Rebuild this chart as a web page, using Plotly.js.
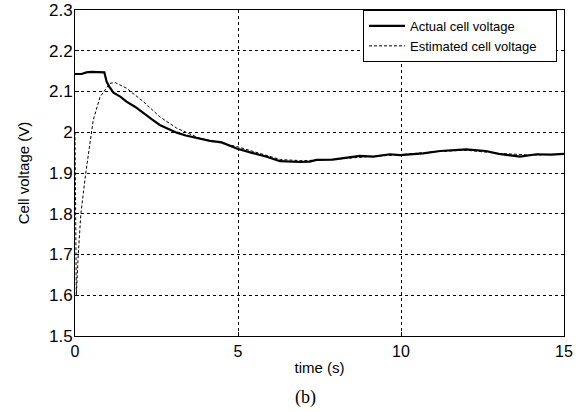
<!DOCTYPE html>
<html>
<head>
<meta charset="utf-8">
<script src="https://cdn.plot.ly/plotly-3.0.1.min.js"></script>
<style>html,body{margin:0;padding:0;background:#fff;}#chart{width:587px;height:411px;}</style>
</head>
<body>
<div id="chart"></div>
<script>
// Actual cell voltage
const actualT = [0, 0.2, 0.35, 0.5, 0.9, 0.97, 1.05, 1.18, 1.4, 1.58, 1.85, 2.1, 2.35, 2.6, 2.85, 3.12, 3.4, 3.63, 3.83, 4.14, 4.5, 4.96, 5.4, 5.88, 6.29, 6.6, 6.9, 7.2, 7.41, 7.9, 8.44, 8.74, 9.15, 9.66, 9.97, 10.68, 11.2, 12.0, 12.6, 13.0, 13.3, 13.65, 14.16, 14.6, 15];
const actualV = [2.143, 2.143, 2.147, 2.148, 2.147, 2.124, 2.112, 2.097, 2.087, 2.075, 2.062, 2.046, 2.032, 2.018, 2.008, 1.999, 1.992, 1.988, 1.983, 1.979, 1.975, 1.960, 1.950, 1.940, 1.929, 1.928, 1.927, 1.928, 1.932, 1.933, 1.938, 1.942, 1.940, 1.946, 1.944, 1.948, 1.954, 1.958, 1.954, 1.947, 1.944, 1.940, 1.946, 1.945, 1.947];
// Estimated cell voltage
const estT = [0, 0.04, 0.1, 0.18, 0.33, 0.45, 0.56, 0.77, 1.07, 1.23, 1.58, 2.1, 2.6, 3.12, 3.63, 3.83, 4.96, 5.88, 6.3, 7, 8, 9, 10, 11, 12, 13, 14, 15];
const estV = [2.0, 1.6, 1.7, 1.8, 1.9, 1.975, 2.03, 2.087, 2.12, 2.122, 2.108, 2.075, 2.038, 2.01, 1.993, 1.985, 1.965, 1.944, 1.933, 1.930, 1.934, 1.940, 1.945, 1.952, 1.956, 1.948, 1.944, 1.946];

const xTicks = [0, 5, 10, 15];
const yTicks = [1.5, 1.6, 1.7, 1.8, 1.9, 2, 2.1, 2.2, 2.3];
const yTickText = ['1.5', '1.6', '1.7', '1.8', '1.9', '2', '2.1', '2.2', '2.3'];
const seriesNames = ['Actual cell voltage', 'Estimated cell voltage'];

const pad = '\u00a0\u00a0\u00a0\u00a0';
const traces = [
  {x: actualT, y: actualV, type: 'scatter', mode: 'lines', name: seriesNames[0],
   line: {color: '#000', width: 2.2}},
  {x: estT, y: estV, type: 'scatter', mode: 'lines', name: seriesNames[1] + pad,
   line: {color: '#000', width: 1, dash: '3px,2px'}}
];

const font = 'Arial, "Liberation Sans", sans-serif';
const layout = {
  width: 587, height: 411,
  margin: {l: 75, r: 23, t: 10, b: 75},
  paper_bgcolor: '#fff', plot_bgcolor: '#fff',
  showlegend: true,
  legend: {x: 0.9857, xanchor: 'right', y: 1, yanchor: 'top',
    bgcolor: '#fff', bordercolor: '#000', borderwidth: 1, itemwidth: 36,
    font: {family: font, size: 13, color: '#000'}, tracegroupgap: 0},
  xaxis: {range: [0, 15], tickvals: xTicks, ticktext: xTicks.map(String),
    showgrid: true, gridcolor: '#000', gridwidth: 1, griddash: '3px,3px',
    zeroline: false, showline: true, mirror: true, linecolor: '#000', linewidth: 1,
    ticks: 'inside', ticklen: 4, tickcolor: '#000', ticklabelstandoff: 1,
    tickfont: {family: font, size: 16, color: '#000'},
    title: {text: 'time (s)', font: {family: font, size: 15, color: '#000'}, standoff: 3}},
  yaxis: {range: [1.5, 2.3], tickvals: yTicks, ticktext: yTickText,
    showgrid: true, gridcolor: '#000', gridwidth: 1, griddash: '3px,3px',
    zeroline: false, showline: true, mirror: true, linecolor: '#000', linewidth: 1,
    ticks: 'inside', ticklen: 4, tickcolor: '#000', ticklabelstandoff: -2,
    tickfont: {family: font, size: 17, color: '#000'},
    title: {text: 'Cell voltage (V)', font: {family: font, size: 15, color: '#000'}, standoff: 15}},
  annotations: [{text: '(b)', xref: 'paper', yref: 'paper', x: (305 - 75) / 489, y: -(397 - 336) / 326,
    xanchor: 'center', yanchor: 'middle', showarrow: false,
    font: {family: '"Times New Roman", "Liberation Serif", serif', size: 18, color: '#000'}}]
};

Plotly.newPlot('chart', traces, layout, {displayModeBar: false, staticPlot: true});
</script>
</body>
</html>
